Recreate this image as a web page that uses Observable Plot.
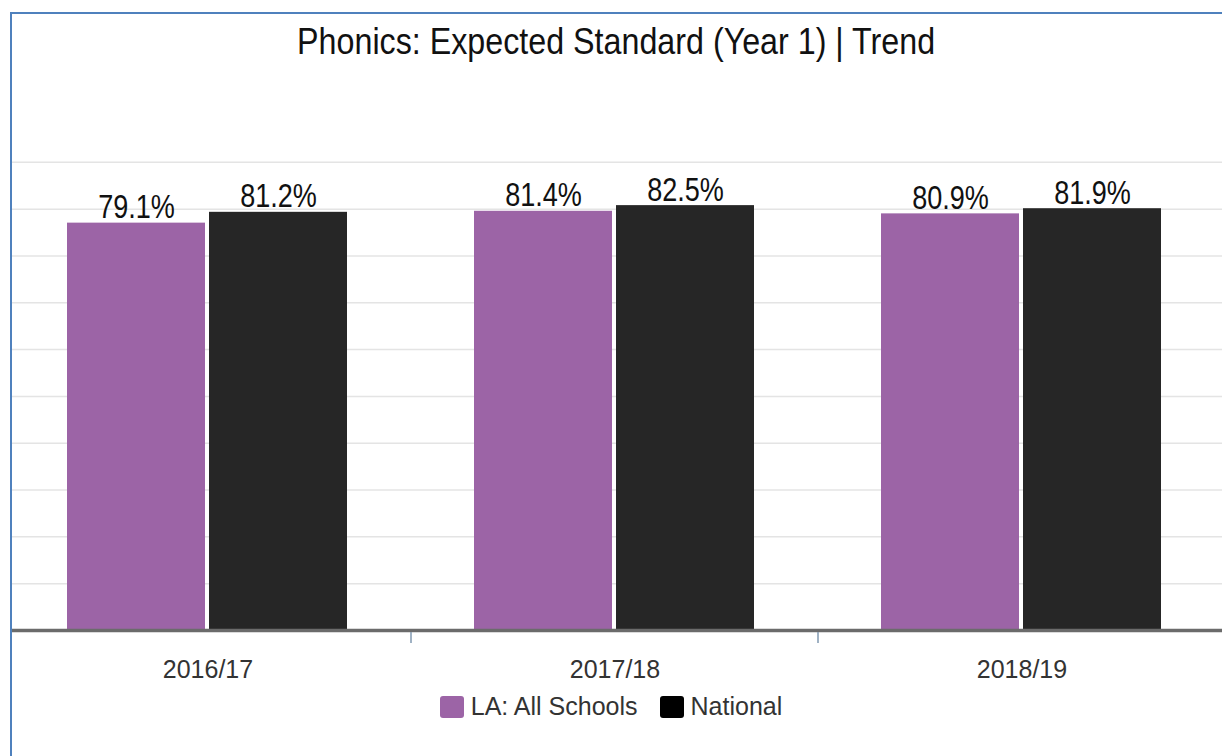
<!DOCTYPE html>
<html>
<head>
<meta charset="utf-8">
<script src="https://cdn.jsdelivr.net/npm/d3@7"></script>
<script src="https://cdn.jsdelivr.net/npm/@observablehq/plot@0.6"></script>
<style>
  html, body { margin: 0; padding: 0; background: #fff; }
  #page { position: relative; width: 1222px; height: 756px; overflow: hidden; background: #fff; }
  #chart { position: absolute; left: 0; top: 0; }
  #mask { position: absolute; left: 0; top: 0; width: 10px; height: 756px; background: #fff; }
  #frame { position: absolute; left: 10px; top: 12px; width: 1300px; height: 900px;
           border-left: 2px solid #4f81bd; border-top: 2px solid #4f81bd; box-sizing: border-box; }
  #titlewrap { position: absolute; left: 0; top: 23px; width: 1232px; text-align: center; }
  #title { display: inline-block; white-space: nowrap;
           font-family: "Liberation Sans", Arial, sans-serif;
           font-size: 37px; line-height: 37px; color: #111; transform-origin: 50% 50%; }
  #legend { position: absolute; left: 0; top: 694px; width: 1222px; height: 25px;
            display: flex; justify-content: center; align-items: center;
            font-family: "Liberation Sans", Arial, sans-serif; font-size: 25px; line-height: 25px; color: #333; }
  .item { display: flex; align-items: center; margin: 0 11px; }
  .sw { width: 24px; height: 22px; border-radius: 3px; margin-right: 7px; }
</style>
</head>
<body>
<div id="page">
  <div id="chart"></div>
  <div id="mask"></div>
  <div id="frame"></div>
  <div id="titlewrap"><span id="title"></span></div>
  <div id="legend"></div>
</div>
<script>
const titleText = "Phonics: Expected Standard (Year 1) | Trend";
const years = ["2016/17", "2017/18", "2018/19"];
const series = ["LA: All Schools", "National"];
const laValues = [79.1, 81.4, 80.9];
const nationalValues = [81.2, 82.5, 81.9];
const colors = ["#9c64a6", "#262626"];
const gridTicks = d3.range(1, 11).map(k => k * 100 / 11);

const data = years.flatMap((yr, i) => [
  {year: yr, series: series[0], value: laValues[i]},
  {year: yr, series: series[1], value: nationalValues[i]}
]);

const sansFont = '"Liberation Sans", Arial, sans-serif';

const chart = Plot.plot({
  width: 1222,
  height: 690,
  marginTop: 115,
  marginBottom: 60,
  marginLeft: 4,
  marginRight: -3,
  style: {fontFamily: sansFont, background: "transparent"},
  fx: {domain: years, padding: 0, label: null},
  x: {domain: series, paddingInner: 0.028, paddingOuter: 0.447, axis: null},
  y: {domain: [0, 100], axis: null},
  color: {domain: series, range: colors},
  marks: [
    Plot.ruleY(gridTicks, {stroke: "#e4e4e4", strokeWidth: 1.5}),
    Plot.barY(data, {fx: "year", x: "series", y: "value", fill: "series"}),
    Plot.text(data, {fx: "year", x: "series", y: "value",
      text: d => d.value.toFixed(1) + "%", dy: -5, lineAnchor: "bottom",
      fontSize: 33, fontFamily: sansFont, fill: "#111", className: "vlabel"}),
    Plot.ruleY([0], {stroke: "#6b6b6b", strokeWidth: 3.5}),
    Plot.axisFx({anchor: "bottom", tickSize: 0, tickPadding: 30, fontSize: 25, color: "#333", label: null})
  ]
});

// condensed look for the value labels
d3.select(chart).selectAll(".vlabel text").each(function() {
  const t = this.getAttribute("transform") || "";
  this.setAttribute("transform", t + " scale(0.82,1)");
});

// group separator ticks below the baseline, placed from the fx scale
const fx = chart.scale("fx");
const y = chart.scale("y");
const y0 = y.apply(0);
const svg = d3.select(chart);
years.slice(1).forEach(yr => {
  const xx = fx.apply(yr);
  svg.append("line")
    .attr("x1", xx).attr("x2", xx)
    .attr("y1", y0 + 2).attr("y2", y0 + 13)
    .attr("stroke", "#8199b0").attr("stroke-width", 1.5);
});

document.getElementById("chart").appendChild(chart);

const title = document.getElementById("title");
title.textContent = titleText;
const w = title.getBoundingClientRect().width;
title.style.transform = `scaleX(${638 / w})`;

const legend = document.getElementById("legend");
series.forEach((s, i) => {
  const item = document.createElement("div");
  item.className = "item";
  const sw = document.createElement("div");
  sw.className = "sw";
  sw.style.background = i === 1 ? "#000" : colors[i];
  const label = document.createElement("span");
  label.textContent = s;
  item.appendChild(sw);
  item.appendChild(label);
  legend.appendChild(item);
});
</script>
</body>
</html>
